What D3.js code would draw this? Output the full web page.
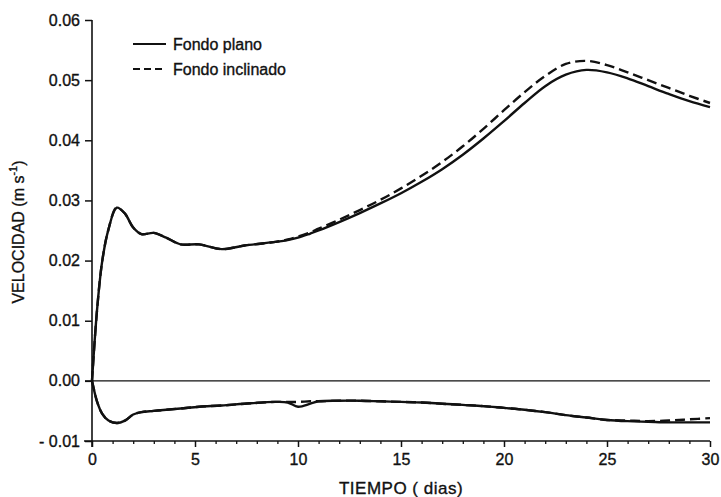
<!DOCTYPE html>
<html>
<head>
<meta charset="utf-8">
<script src="https://cdn.jsdelivr.net/npm/d3@7"></script>
<style>
  html, body { margin: 0; padding: 0; background: #fff; }
  svg text { font-family: "Liberation Sans", Arial, sans-serif; fill: #111; stroke: #111; stroke-width: 0.35px; }
</style>
</head>
<body>
<div id="main"></div>
<script>
// time grid (days) shared by all four curves
const days = [0, 0.25, 0.5, 0.8, 1.2, 1.6, 2.0, 2.4, 3.0, 3.6, 4.3, 5.2, 6.3, 7.4, 8.9, 9.5, 10, 10.6, 11,
  12, 13, 14, 15, 16, 17, 18, 19, 20, 21, 22, 23, 24, 25, 26, 27, 28, 29, 30];

// upper branch
const planoUpper = [0, 0.012, 0.020, 0.0252, 0.0288, 0.0278, 0.0255, 0.0244, 0.0246, 0.0238, 0.0227, 0.0227,
  0.0219, 0.0225, 0.0231, 0.0234, 0.0238, 0.0245, 0.0250,
  0.0264, 0.0279, 0.0295, 0.0312, 0.0331, 0.0352, 0.0376, 0.0403, 0.0432, 0.0462, 0.0490, 0.0509, 0.0517,
  0.0513, 0.0503, 0.0490, 0.0477, 0.0465, 0.0455];
const inclinadoUpper = [0, 0.012, 0.020, 0.0252, 0.0288, 0.0278, 0.0255, 0.0244, 0.0246, 0.0238, 0.0227, 0.0227,
  0.0219, 0.0225, 0.0231, 0.0235, 0.0240, 0.0247, 0.0253,
  0.0268, 0.0284, 0.0301, 0.0320, 0.0341, 0.0364, 0.0390, 0.0419, 0.0450, 0.0480, 0.0507, 0.0527, 0.0532,
  0.0525, 0.0513, 0.0500, 0.0487, 0.0474, 0.0462];

// lower branch
const planoLower = [0, -0.0035, -0.0055, -0.0066, -0.0070, -0.0066, -0.0056, -0.0052, -0.0050, -0.0048, -0.0046,
  -0.0043, -0.0041, -0.0038, -0.0035, -0.0036, -0.0043, -0.0038, -0.0034,
  -0.0033, -0.0033, -0.0034, -0.0035, -0.0036, -0.0038, -0.0040, -0.0042, -0.0045, -0.0048, -0.0052, -0.0057,
  -0.0061, -0.0065, -0.0067, -0.0068, -0.0069, -0.0069, -0.0069];
const inclinadoLower = [0, -0.0035, -0.0055, -0.0066, -0.0070, -0.0066, -0.0056, -0.0052, -0.0050, -0.0048, -0.0046,
  -0.0043, -0.0041, -0.0038, -0.0035, -0.0035, -0.0035, -0.0034, -0.0034,
  -0.0033, -0.0033, -0.0034, -0.0035, -0.0036, -0.0038, -0.0040, -0.0042, -0.0045, -0.0048, -0.0052, -0.0057,
  -0.0061, -0.0065, -0.0066, -0.0067, -0.0066, -0.0064, -0.0062];

const xTicks = [0, 5, 10, 15, 20, 25, 30];
const xMinorTicks = d3.range(0, 31, 1);
const yTicks = [-0.01, 0, 0.01, 0.02, 0.03, 0.04, 0.05, 0.06];
const legendLabels = ['Fondo plano', 'Fondo inclinado'];

const width = 721;
const height = 497;

const svg = d3.select('#main').append('svg')
  .attr('width', width)
  .attr('height', height);

const x = d3.scaleLinear().domain([0, 30]).range([92, 710]);
const y = d3.scaleLinear().domain([-0.01, 0.06]).range([441, 20]);

const fmt = (v) => (v < 0 ? '- ' + d3.format('.2f')(-v) : d3.format('.2f')(v));

/* y axis */
const yAxis = svg.append('g')
  .attr('transform', `translate(${x(0)},0)`)
  .call(d3.axisLeft(y).tickValues(yTicks).tickSize(7).tickSizeOuter(0).tickPadding(5).tickFormat(fmt));
yAxis.select('.domain').remove();
yAxis.selectAll('.tick line').attr('stroke', '#111').attr('stroke-width', 1.5);
yAxis.selectAll('.tick text').style('font-size', '16px').attr('fill', '#111');
yAxis.append('line')
  .attr('y1', y(0.06)).attr('y2', y(-0.01) + 6)
  .attr('stroke', '#111').attr('stroke-width', 1.6);

/* x axis: minor ticks each day, longer at multiples of 5 */
const xAxisMinor = svg.append('g')
  .attr('transform', `translate(0,${y(-0.01)})`)
  .call(d3.axisBottom(x).tickValues(xMinorTicks.filter((d) => d % 5 !== 0)).tickSize(3).tickFormat(''));
xAxisMinor.select('.domain').remove();
xAxisMinor.selectAll('.tick line').attr('stroke', '#111').attr('stroke-width', 1.3);

const xAxis = svg.append('g')
  .attr('transform', `translate(0,${y(-0.01)})`)
  .call(d3.axisBottom(x).tickValues(xTicks).tickSize(6).tickSizeOuter(0).tickPadding(7).tickFormat(d3.format('d')));
xAxis.select('.domain').remove();
xAxis.selectAll('.tick line').attr('stroke', '#111').attr('stroke-width', 1.5);
xAxis.selectAll('.tick text').style('font-size', '16px').attr('fill', '#111');
xAxis.append('line')
  .attr('x1', x(0) - 8).attr('x2', x(30))
  .attr('stroke', '#111').attr('stroke-width', 1.6);

/* zero line */
svg.append('line')
  .attr('x1', x(0) - 7).attr('x2', x(30))
  .attr('y1', y(0)).attr('y2', y(0))
  .attr('stroke', '#111').attr('stroke-width', 1.4);

/* curves */
const series = [
  { values: planoUpper, dash: null },
  { values: planoLower, dash: null },
  { values: inclinadoUpper, dash: '10,5' },
  { values: inclinadoLower, dash: '10,5' },
];

const line = d3.line()
  .x((d) => x(d[0]))
  .y((d) => y(d[1]))
  .curve(d3.curveCatmullRom.alpha(0.5));

svg.selectAll('path.curve')
  .data(series)
  .enter()
  .append('path')
  .attr('class', 'curve')
  .attr('d', (s) => line(days.map((t, i) => [t, s.values[i]])))
  .attr('fill', 'none')
  .attr('stroke', '#111')
  .attr('stroke-width', 2.4)
  .attr('stroke-dasharray', (s) => s.dash);

/* legend */
const legend = svg.append('g');
legendLabels.forEach((label, i) => {
  const ly = 44 + i * 25;
  legend.append('line')
    .attr('x1', 133).attr('x2', 166)
    .attr('y1', ly).attr('y2', ly)
    .attr('stroke', '#111').attr('stroke-width', 2)
    .attr('stroke-dasharray', i === 1 ? '7,4' : null);
  legend.append('text')
    .attr('x', 173).attr('y', ly + 6)
    .style('font-size', '16px')
    .text(label);
});

/* axis titles */
svg.append('text')
  .attr('x', 401).attr('y', 494)
  .attr('text-anchor', 'middle')
  .style('font-size', '17px')
  .style('letter-spacing', '0.5px')
  .text('TIEMPO ( dias)');

const yTitle = svg.append('text')
  .attr('transform', 'translate(24,232) rotate(-90)')
  .attr('text-anchor', 'middle')
  .style('font-size', '16px');
yTitle.append('tspan').text('VELOCIDAD (m s');
yTitle.append('tspan').attr('dy', -7).style('font-size', '11px').text('-1');
yTitle.append('tspan').attr('dy', 7).text(')');
</script>
</body>
</html>
